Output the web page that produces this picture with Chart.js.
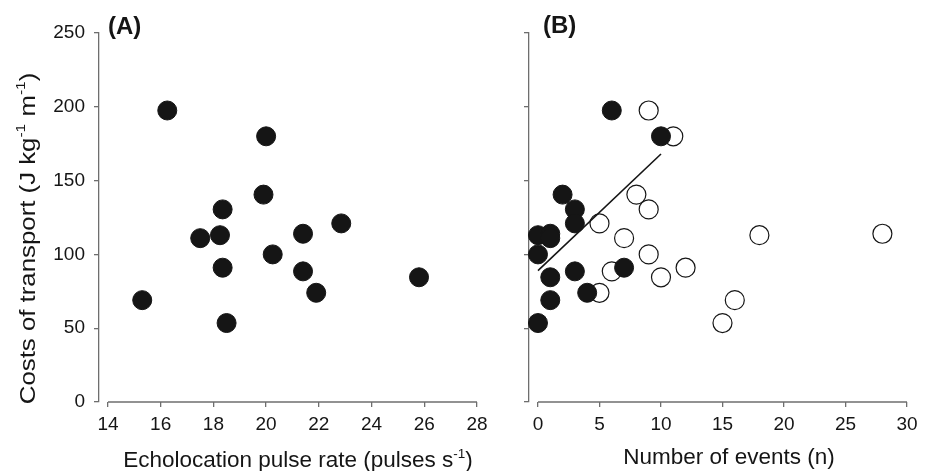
<!DOCTYPE html>
<html>
<head>
<meta charset="utf-8">
<script src="https://cdn.jsdelivr.net/npm/chart.js@4.4.0/dist/chart.umd.min.js"></script>
<style>
  body { margin: 0; background: #fff; }
  #wrap { position: relative; width: 930px; height: 471px; }
  #chartA { position: absolute; left: 0; top: 0; }
  #chartB { position: absolute; left: 480px; top: 0; }
</style>
</head>
<body>
<div id="wrap">
  <canvas id="chartA" width="520" height="471"></canvas>
  <canvas id="chartB" width="450" height="471"></canvas>
</div>
<script>
// Panel A: pulse rate vs cost
const pulseRate = [15.3, 16.25, 17.5, 18.25, 18.35, 18.35, 18.5, 19.9, 20.0, 20.25, 21.4, 21.4, 21.9, 22.85, 25.8];
const costA     = [69, 197.5, 111, 113, 130.5, 91, 53.5, 140.5, 180, 100, 114, 88.5, 74, 121, 84.5];

// Panel B: number of events vs cost (filled / open)
const eventsFilled = [0, 1, 1, 0, 2, 3, 3, 3, 1, 1, 0, 4, 7, 6, 10];
const costFilled   = [113, 114, 111, 100, 140.5, 130.5, 121, 88.5, 84.5, 69, 53.5, 74, 91, 197.5, 180];
const eventsOpen   = [9, 11, 8, 9, 5, 7, 18, 28, 9, 6, 12, 10, 5, 16, 15];
const costOpen     = [197.5, 180, 140.5, 130.5, 121, 111, 113, 114, 100, 88.5, 91, 84.5, 74, 69, 53.5];

// regression line in B
const fitEvents = [0, 10];
const fitCost   = [89, 168];

const costTicks  = [0, 50, 100, 150, 200, 250];
const pulseTicks = [14, 16, 18, 20, 22, 24, 26, 28];
const eventTicks = [0, 5, 10, 15, 20, 25, 30];

const FONT = '"Liberation Sans", Arial, Helvetica, sans-serif';
const AXIS = '#6e6e6e';
const INK = '#151515';

function pts(xs, ys) {
    return xs.map((x, i) => ({ x: x, y: ys[i] }));
}

// text with small raised pieces (superscripts), centred on 0
function drawRich(ctx, parts, size) {
    let w = 0;
    parts.forEach(p => {
        ctx.font = (p.sup ? size * 0.6 : size) + 'px ' + FONT;
        w += ctx.measureText(p.t).width;
    });
    let x = -w / 2;
    parts.forEach(p => {
        ctx.font = (p.sup ? size * 0.6 : size) + 'px ' + FONT;
        ctx.fillText(p.t, x, p.sup ? -size * 0.42 : 0);
        x += ctx.measureText(p.t).width;
    });
}

// offset x axis line, axis titles and panel letter
const decor = {
    id: 'decor',
    afterDraw(chart, args, o) {
        const ctx = chart.ctx;
        const xs = chart.scales.x, ys = chart.scales.y;
        ctx.save();
        ctx.strokeStyle = AXIS;
        ctx.lineWidth = 1.3;
        const yb = ys.getPixelForValue(0);
        ctx.beginPath();
        ctx.moveTo(xs.getPixelForValue(o.xFirst), yb);
        ctx.lineTo(xs.getPixelForValue(o.xLast), yb);
        ctx.stroke();

        ctx.fillStyle = INK;
        ctx.textAlign = 'left';
        ctx.textBaseline = 'alphabetic';

        ctx.save();
        ctx.translate(o.xTitle.cx, o.xTitle.base);
        drawRich(ctx, o.xTitle.parts, o.size);
        ctx.restore();

        if (o.yTitle) {
            ctx.save();
            ctx.translate(o.yTitle.base, o.yTitle.cy);
            ctx.rotate(-Math.PI / 2);
            ctx.scale(o.yTitle.stretch, 1);
            drawRich(ctx, o.yTitle.parts, o.yTitle.size);
            ctx.restore();
        }

        ctx.font = 'bold 24px ' + FONT;
        ctx.fillText(o.label, o.labelX, o.labelY);
        ctx.restore();
    }
};

function baseScales(xMin, xMax, xTicks, yWidth, showYLabels) {
    return {
        x: {
            type: 'linear',
            min: xMin,
            max: xMax,
            afterBuildTicks: axis => { axis.ticks = xTicks.map(v => ({ value: v })); },
            afterFit: axis => { axis.height = 69; },
            border: { display: false },
            grid: { drawOnChartArea: false, drawTicks: true, tickLength: 5, color: AXIS, lineWidth: 1.3 },
            ticks: { color: INK, font: { family: FONT, size: 19 }, padding: 6, maxRotation: 0 }
        },
        y: {
            type: 'linear',
            min: 0,
            max: 250,
            afterBuildTicks: axis => { axis.ticks = costTicks.map(v => ({ value: v })); },
            afterFit: axis => { axis.width = yWidth; },
            border: { display: true, color: AXIS, width: 1.3 },
            grid: { drawOnChartArea: false, drawTicks: true, tickLength: 5, color: AXIS, lineWidth: 1.3 },
            ticks: { display: showYLabels, color: INK, font: { family: FONT, size: 19 }, padding: 9 }
        }
    };
}

const filledStyle = { backgroundColor: INK, borderColor: INK, pointRadius: 9.5, borderWidth: 1, clip: false };
const openStyle = { backgroundColor: '#ffffff', borderColor: INK, pointRadius: 9.5, borderWidth: 1.2, clip: false };

// Panel A
new Chart(document.getElementById('chartA'), {
    type: 'scatter',
    data: {
        datasets: [
            Object.assign({ label: 'A', data: pts(pulseRate, costA) }, filledStyle)
        ]
    },
    options: {
        responsive: false,
        animation: false,
        layout: { padding: { left: 0, top: 33, right: 43, bottom: 0 } },
        // 13.66 puts the 14 tick 9px right of the y axis
        scales: baseScales(13.66, 28, pulseTicks, 99, true),
        plugins: {
            legend: { display: false },
            tooltip: { enabled: false },
            decor: {
                xFirst: 14, xLast: 28, size: 22.5,
                xTitle: { cx: 298, base: 467, parts: [{ t: 'Echolocation pulse rate (pulses s' }, { t: '-1', sup: true }, { t: ')' }] },
                yTitle: { cy: 238.5, base: 34.5, size: 21.5, stretch: 1.2, parts: [{ t: 'Costs of transport (J kg' }, { t: '-1', sup: true }, { t: ' m' }, { t: '-1', sup: true }, { t: ')' }] },
                label: '(A)', labelX: 108, labelY: 34
            }
        }
    },
    plugins: [decor]
});

// Panel B
new Chart(document.getElementById('chartB'), {
    type: 'scatter',
    data: {
        datasets: [
            { label: 'fit', data: pts(fitEvents, fitCost), showLine: true, borderColor: INK, borderWidth: 1.6, pointRadius: 0, order: 0, clip: false },
            Object.assign({ label: 'filled', data: pts(eventsFilled, costFilled), order: 1 }, filledStyle),
            Object.assign({ label: 'open', data: pts(eventsOpen, costOpen), order: 2 }, openStyle)
        ]
    },
    options: {
        responsive: false,
        animation: false,
        layout: { padding: { left: 0, top: 33, right: 23, bottom: 0 } },
        // -0.73 puts the 0 tick 9px right of the y axis
        scales: baseScales(-0.73, 30, eventTicks, 49, false),
        plugins: {
            legend: { display: false },
            tooltip: { enabled: false },
            decor: {
                xFirst: 0, xLast: 30, size: 22.5,
                xTitle: { cx: 249, base: 464, parts: [{ t: 'Number of events (n)' }] },
                label: '(B)', labelX: 63, labelY: 33
            }
        }
    },
    plugins: [decor]
});
</script>
</body>
</html>
